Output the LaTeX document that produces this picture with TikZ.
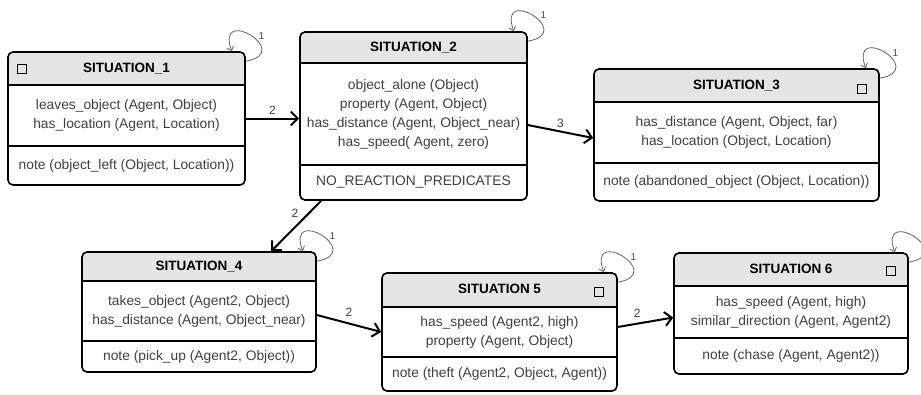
\documentclass[tikz,border=0pt]{standalone}
\usepackage{fontspec}
\setmainfont{Liberation Sans}
\usetikzlibrary{arrows.meta,fit}

\definecolor{headgray}{gray}{0.9}

\tikzset{
  sitbox/.style={draw, line width=1.6pt, rounded corners=5pt, inner sep=0pt},
  sitline/.style={line width=1.6pt},
  sittitle/.style={font=\fontsize{13.5}{15}\selectfont\bfseries, text height=10pt, text depth=3pt, inner sep=0pt},
  predtext/.style={align=center, text=black!75, font=\fontsize{13.8}{19}\selectfont, inner sep=0pt},
  marker/.style={draw, line width=1pt, minimum size=8.5pt, inner sep=0pt},
  flow/.style={line width=2pt, -{Straight Barb[length=7pt,width=14pt,line width=2pt]}},
  flowlabel/.style={font=\fontsize{12}{14}\selectfont, text=black!75},
  selfloop/.style={black!60, line width=0.8pt, -{Straight Barb[length=4pt,width=7pt]}},
  looplabel/.style={font=\fontsize{10}{12}\selectfont, text=black!70, inner sep=1pt},
}

% #1 name, (#2,#3) top left, (#4,#5) bottom right, #6 header line, #7 note line, #8 title
\newcommand{\situation}[8]{%
  \fill[headgray, rounded corners=5pt] (#2,#3) rectangle (#4,{#6+8});
  \fill[white] (#2,#6) rectangle (#4,{#6+10});
  \node[sitbox, fit={(#2,#3) (#4,#5)}] (#1) {};
  \draw[sitline] (#2,#6) -- (#4,#6);
  \draw[sitline] (#2,#7) -- (#4,#7);
  \node[sittitle] (#1-title) at ({(#2+#4)/2},{(#3+#6)/2}) {#8};
  \coordinate (#1-body) at ({(#2+#4)/2},{(#6+#7)/2});
  \coordinate (#1-note) at ({(#2+#4)/2},{(#7+#5)/2});
}

\begin{document}
\begin{tikzpicture}[x=1pt, y=-1pt]

\useasboundingbox (0,0) rectangle (921,394);

% situations
\situation{s1}{8}{52}{245}{185}{85}{146}{SITUATION\_1}
\node[predtext] (s1-preds) at (s1-body) {leaves\_object (Agent, Object)\\has\_location (Agent, Location)};
\node[predtext] (s1-notes) at (s1-note) {note (object\_left (Object, Location))};
\node[marker] (s1-mark) at (22,69) {};

\situation{s2}{300}{32}{527}{200}{63}{165}{SITUATION\_2}
\node[predtext] (s2-preds) at (s2-body) {object\_alone (Object)\\property (Agent, Object)\\has\_distance (Agent, Object\_near)\\has\_speed( Agent, zero)};
\node[predtext] (s2-notes) at (s2-note) {NO\_REACTION\_PREDICATES};

\situation{s3}{594}{69}{879}{201}{102}{163}{SITUATION\_3}
\node[predtext] (s3-preds) at (s3-body) {has\_distance (Agent, Object, far)\\has\_location (Object, Location)};
\node[predtext] (s3-notes) at (s3-note) {note (abandoned\_object (Object, Location))};
\node[marker] (s3-mark) at (862,89) {};

\situation{s4}{82}{252}{316}{372}{281}{341}{SITUATION\_4}
\node[predtext] (s4-preds) at (s4-body) {takes\_object (Agent2, Object)\\has\_distance (Agent, Object\_near)};
\node[predtext] (s4-notes) at (s4-note) {note (pick\_up (Agent2, Object))};

\situation{s5}{382}{273}{617}{391}{307}{357}{SITUATION 5}
\node[predtext] (s5-preds) at (s5-body) {has\_speed (Agent2, high)\\property (Agent, Object)};
\node[predtext] (s5-notes) at (s5-note) {note (theft (Agent2, Object, Agent))};
\node[marker] (s5-mark) at (599,292) {};

\situation{s6}{674}{253}{908}{374}{286}{338}{SITUATION 6}
\node[predtext] (s6-preds) at (s6-body) {has\_speed (Agent, high)\\similar\_direction (Agent, Agent2)};
\node[predtext] (s6-notes) at (s6-note) {note (chase (Agent, Agent2))};
\node[marker] (s6-mark) at (891,271) {};

% transitions
\draw[flow] (s1.east) -- (s1.east -| s2.west) node[midway, above, flowlabel] {2};
\draw[flow] ([yshift=-9pt]s2.east) -- ([yshift=-3pt]s3.west) node[midway, above, flowlabel] {3};
\draw[flow] ([xshift=22pt]s2.south west) -- ([xshift=190pt]s4.north west) node[pos=0.25, left=6pt, flowlabel] {2};
\draw[flow] ([yshift=-3pt]s4.east) -- (s5.west) node[midway, above=3pt, flowlabel] {2};
\draw[flow] ([yshift=5pt]s5.east) -- ([yshift=-4pt]s6.west) node[pos=0.35, above=2pt, flowlabel] {2};

% self loops
\foreach \s in {s1,s2,s3,s4,s5}
  \draw[selfloop] ([yshift=-10pt]\s.north east) to[out=10, in=110, distance=50pt] node[pos=0.4, above right, looplabel] {1} ([xshift=-14pt]\s.north east);
\draw[selfloop] ([yshift=-10pt]s6.north east) to[out=10, in=110, distance=50pt] ([xshift=-14pt]s6.north east);

\end{tikzpicture}
\end{document}
